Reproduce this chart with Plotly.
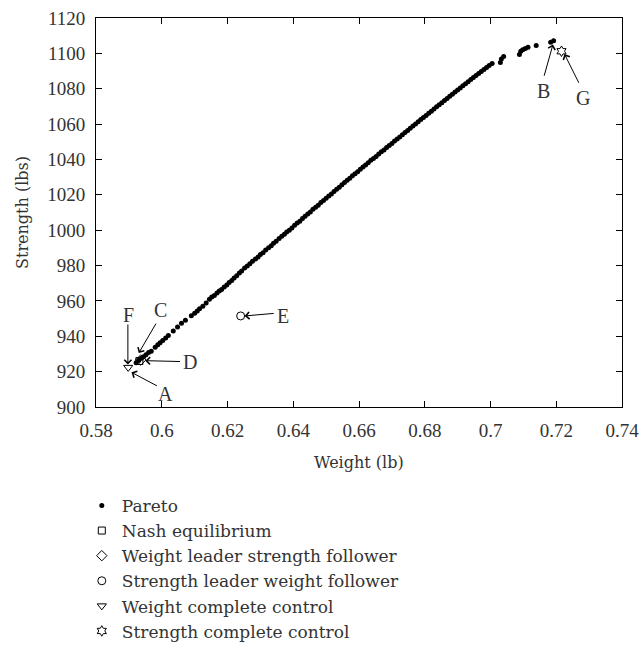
import plotly.graph_objects as go

# Pareto front (weight lb, strength lbs)
pareto_w = [0.5922, 0.5930, 0.5938, 0.5945, 0.5952, 0.5960, 0.5968, 0.5980, 0.5988, 0.5995,
            0.6003, 0.6012, 0.6020, 0.6035, 0.6048, 0.6060, 0.6072, 0.6090, 0.6100, 0.6108,
            0.6115, 0.6125, 0.6135, 0.6145, 0.6152, 0.6160, 0.6168, 0.6175, 0.6182, 0.6190,
            0.6198, 0.6205, 0.6213, 0.6220, 0.6228, 0.6236, 0.6243, 0.6252, 0.6260, 0.6268,
            0.6276, 0.6285, 0.6293, 0.6300, 0.6308, 0.6316, 0.6325, 0.6333, 0.6340, 0.6348,
            0.6357, 0.6365, 0.6373, 0.6380, 0.6388, 0.6396, 0.6404, 0.6412, 0.6420, 0.6428,
            0.6436, 0.6444, 0.6452, 0.6460, 0.6468, 0.6476, 0.6484, 0.6492, 0.6500, 0.6508,
            0.6516, 0.6524, 0.6532, 0.6540, 0.6548, 0.6556, 0.6564, 0.6572, 0.6580, 0.6588,
            0.6596, 0.6604, 0.6612, 0.6620, 0.6628, 0.6636, 0.6644, 0.6652, 0.6660, 0.6668,
            0.6676, 0.6684, 0.6692, 0.6700, 0.6708, 0.6716, 0.6724, 0.6732, 0.6740, 0.6748,
            0.6756, 0.6764, 0.6772, 0.6780, 0.6788, 0.6796, 0.6804, 0.6812, 0.6820, 0.6828,
            0.6836, 0.6844, 0.6852, 0.6860, 0.6868, 0.6876, 0.6884, 0.6892, 0.6900, 0.6908,
            0.6916, 0.6924, 0.6932, 0.6940, 0.6948, 0.6956, 0.6964, 0.6972, 0.6980, 0.6988,
            0.6996, 0.7005, 0.7030, 0.7033, 0.7040, 0.7088, 0.7092, 0.7098, 0.7106, 0.7114,
            0.7139, 0.7183, 0.7192]
pareto_s = [925.0, 926.3, 927.6, 928.4, 929.5, 930.8, 931.6, 933.8, 935.2, 936.3,
            937.6, 939.0, 940.4, 943.0, 945.2, 947.4, 949.0, 951.6, 953.0, 954.3,
            955.6, 957.0, 958.8, 961.0, 962.2, 963.1, 964.5, 965.6, 966.4, 967.9,
            969.0, 970.4, 971.5, 972.9, 974.2, 975.8, 976.9, 978.6, 979.8, 981.0,
            982.4, 983.7, 984.9, 986.2, 987.3, 988.8, 990.1, 991.2, 992.6, 993.8,
            995.3, 996.5, 997.7, 999.0, 1000.0, 1001.3, 1002.8, 1004.0, 1005.1, 1006.6,
            1007.9, 1009.2, 1010.3, 1011.8, 1013.0, 1014.1, 1015.6, 1016.8, 1018.0, 1019.4,
            1020.5, 1021.9, 1023.2, 1024.3, 1025.7, 1026.9, 1028.2, 1029.4, 1030.8, 1031.9,
            1033.0, 1034.5, 1035.7, 1036.8, 1038.1, 1039.5, 1040.6, 1041.7, 1043.1, 1044.3,
            1045.4, 1046.8, 1047.9, 1049.0, 1050.4, 1051.6, 1052.7, 1054.0, 1055.3, 1056.4,
            1057.6, 1058.9, 1060.0, 1061.3, 1062.6, 1063.7, 1064.9, 1066.2, 1067.3, 1068.5,
            1069.8, 1070.9, 1072.1, 1073.4, 1074.5, 1075.7, 1076.9, 1078.1, 1079.3, 1080.4,
            1081.7, 1082.8, 1084.0, 1085.2, 1086.3, 1087.5, 1088.6, 1089.8, 1090.9, 1092.0,
            1093.1, 1094.2, 1094.8, 1096.8, 1098.2, 1099.4, 1101.2, 1102.0, 1102.8, 1103.5,
            1104.5, 1106.3, 1107.2]

# Game-theoretic solutions
nash_w, nash_s = [0.5932], [926.0]
wlsf_w, wlsf_s = [0.5936], [926.6]
slwf_w, slwf_s = [0.6240], [951.5]
wcc_w, wcc_s = [0.5898], [922.4]
scc_w, scc_s = [0.7216], [1101.2]

# Point labels: (label, text x, text y, arrow head x, arrow head y, arrow tail x, arrow tail y)
labels = [
    ("F", 0.5899, 952.0, 0.5897, 924.0, 0.5897, 947.5),
    ("C", 0.5996, 955.0, 0.5930, 930.5, 0.5985, 948.0),
    ("D", 0.6085, 925.3, 0.5950, 926.2, 0.6060, 925.7),
    ("A", 0.6012, 907.5, 0.5908, 919.6, 0.5990, 911.5),
    ("E", 0.6370, 951.5, 0.6252, 951.5, 0.6345, 953.0),
    ("B", 0.7160, 1079.0, 0.7190, 1105.0, 0.7162, 1086.5),
    ("G", 0.7282, 1074.5, 0.7225, 1099.6, 0.7271, 1082.5),
]

xticks = [0.58, 0.6, 0.62, 0.64, 0.66, 0.68, 0.7, 0.72, 0.74]
xtick_text = ["0.58", "0.6", "0.62", "0.64", "0.66", "0.68", "0.7", "0.72", "0.74"]
yticks = [900, 920, 940, 960, 980, 1000, 1020, 1040, 1060, 1080, 1100, 1120]

FONT = "Liberation Serif"
WIDE = "DejaVu Serif"
TXT = "#333333"
fig = go.Figure()
fig.add_trace(go.Scatter(x=pareto_w, y=pareto_s, mode="markers", name="Pareto",
                         marker=dict(symbol="circle", size=5, color="black")))
fig.add_trace(go.Scatter(x=nash_w, y=nash_s, mode="markers", name="Nash equilibrium",
                         marker=dict(symbol="square-open", size=7, color="black", line=dict(width=1))))
fig.add_trace(go.Scatter(x=wlsf_w, y=wlsf_s, mode="markers", name="Weight leader strength follower",
                         marker=dict(symbol="diamond-open", size=8, color="black", line=dict(width=1))))
fig.add_trace(go.Scatter(x=slwf_w, y=slwf_s, mode="markers", name="Strength leader weight follower",
                         marker=dict(symbol="circle-open", size=8, color="black", line=dict(width=1))))
fig.add_trace(go.Scatter(x=wcc_w, y=wcc_s, mode="markers", name="Weight complete control",
                         marker=dict(symbol="triangle-down-open", size=8, color="black", line=dict(width=1))))
fig.add_trace(go.Scatter(x=scc_w, y=scc_s, mode="markers", name="Strength complete control",
                         marker=dict(symbol="hexagram-open", size=8, color="black", line=dict(width=1))))

for lab, tx, ty, hx, hy, ax_, ay_ in labels:
    fig.add_annotation(x=hx, y=hy, ax=ax_, ay=ay_, xref="x", yref="y", axref="x", ayref="y",
                       text="", showarrow=True, arrowhead=4, arrowsize=1.4, arrowwidth=1,
                       arrowcolor="black")
    fig.add_annotation(x=tx, y=ty, xref="x", yref="y", text=lab, showarrow=False,
                       font=dict(family=FONT, size=20, color=TXT))

# x-axis title
fig.add_annotation(x=0.5, y=0, xref="paper", yref="paper", yshift=-55, yanchor="middle",
                   text="Weight (lb)", showarrow=False,
                   font=dict(family=WIDE, size=16, color=TXT))

axis_common = dict(showline=True, linecolor="black", linewidth=1, mirror="ticks",
                   ticks="inside", ticklen=6, tickcolor="black", showgrid=False, zeroline=False,
                   automargin=False, ticklabeloverflow="allow",
                   tickfont=dict(family=FONT, size=19, color=TXT))
fig.update_xaxes(range=[0.58, 0.74], tickvals=xticks, ticktext=xtick_text,
                 ticklabelstandoff=6, **axis_common)
fig.update_yaxes(range=[900, 1120], tickvals=yticks, ticklabelstandoff=6,
                 title=dict(text="Strength (lbs)", font=dict(family=WIDE, size=16, color=TXT), standoff=14),
                 **axis_common)

fig.update_layout(
    width=641, height=656,
    margin=dict(l=96, r=19, t=18, b=249, autoexpand=False),
    plot_bgcolor="white", paper_bgcolor="white",
    showlegend=True,
    legend=dict(x=-0.027, y=-0.208, xanchor="left", yanchor="top",
                font=dict(family=WIDE, size=17, color=TXT),
                itemwidth=30, tracegroupgap=0, bgcolor="rgba(0,0,0,0)"),
)

fig.write_html("out.html", config={"displayModeBar": False},
               post_script="document.body.style.margin='0';")
